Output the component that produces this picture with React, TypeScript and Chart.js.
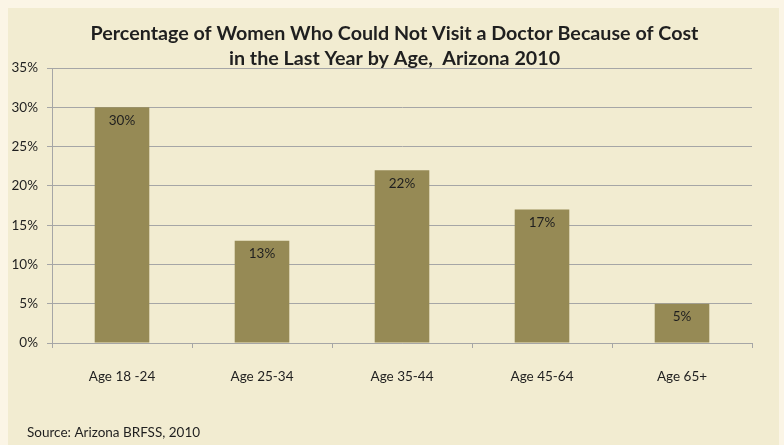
import React, { useEffect, useRef } from "react";
import { Chart, registerables } from "chart.js";

Chart.register(...registerables);

const categories = ["Age 18 -24", "Age 25-34", "Age 35-44", "Age 45-64", "Age 65+"];
const percentages = [30, 13, 22, 17, 5];
const yMax = 35;
const yStep = 5;
const titleLines = [
  "Percentage of Women Who Could Not Visit a Doctor Because of Cost",
  "in the Last Year by Age,  Arizona 2010",
];
const sourceNote = "Source: Arizona BRFSS, 2010";

const FONT = "Lato, 'Open Sans', sans-serif";
const OUTER_BG = "#FBF5E6";
const PANEL_BG = "#F2ECD1";
const BAR = "#968A55";
const GRID = "#A6A6A6";
const TEXT = "#1f1f1f";
const SMALL = 13.5;

const W = 771;
const H = 437;

const overlayPlugin = {
  id: "overlayText",
  afterDatasetsDraw(chart: any) {
    const ctx = chart.ctx;
    const meta = chart.getDatasetMeta(0);
    ctx.save();
    ctx.font = `${SMALL}px ${FONT}`;
    ctx.fillStyle = TEXT;
    ctx.textAlign = "center";
    ctx.textBaseline = "middle";
    meta.data.forEach((bar: any, i: number) => {
      ctx.fillText(`${percentages[i]}%`, bar.x, bar.y + 13);
    });
    ctx.restore();
  },
  afterDraw(chart: any) {
    const ctx = chart.ctx;
    ctx.save();
    ctx.fillStyle = TEXT;
    ctx.textAlign = "center";
    ctx.textBaseline = "middle";
    ctx.font = `bold 19.7px ${FONT}`;
    ctx.fillText(titleLines[0], chart.width / 2 + 1, 26);
    ctx.fillText(titleLines[1], chart.width / 2 + 1, 51);
    ctx.textAlign = "left";
    ctx.font = `${SMALL}px ${FONT}`;
    ctx.fillText(sourceNote, 19, 425);
    ctx.restore();
  },
};

export default function App() {
  const ref = useRef<HTMLCanvasElement | null>(null);

  useEffect(() => {
    if (!ref.current) return;
    const chart = new Chart(ref.current, {
      type: "bar",
      data: {
        labels: categories,
        datasets: [
          {
            data: percentages,
            backgroundColor: BAR,
            borderWidth: 0,
            categoryPercentage: 1,
            barPercentage: 0.39,
          },
        ],
      },
      options: {
        responsive: false,
        animation: false,
        layout: { padding: { left: 0, right: 27, top: 60, bottom: 0 } },
        plugins: {
          legend: { display: false },
          title: { display: false },
          tooltip: { enabled: false },
        },
        scales: {
          x: {
            grid: {
              display: true,
              drawOnChartArea: false,
              drawTicks: true,
              tickLength: 5,
              color: GRID,
              offset: true,
            },
            border: { display: true, color: GRID, width: 1 },
            ticks: {
              color: TEXT,
              font: { family: FONT, size: SMALL },
              padding: 21,
              maxRotation: 0,
            },
            afterFit(scale: any) {
              scale.height = 102;
            },
          },
          y: {
            min: 0,
            max: yMax,
            grid: {
              color: GRID,
              tickLength: 5,
              drawTicks: true,
            },
            border: { display: true, color: GRID, width: 1 },
            ticks: {
              stepSize: yStep,
              color: TEXT,
              font: { family: FONT, size: SMALL },
              padding: 9,
              callback: (v: any) => `${v}%`,
            },
            afterFit(scale: any) {
              scale.width = 44;
            },
          },
        },
      },
      plugins: [overlayPlugin],
    });
    return () => chart.destroy();
  }, []);

  return (
    <div style={{ position: "absolute", left: 0, top: 0, width: 784, height: 445, background: OUTER_BG, overflow: "hidden" }}>
      <div style={{ position: "absolute", left: 8, top: 8, width: W, height: H, background: PANEL_BG }}>
        <canvas ref={ref} width={W} height={H} style={{ display: "block", width: W, height: H }} />
      </div>
    </div>
  );
}
